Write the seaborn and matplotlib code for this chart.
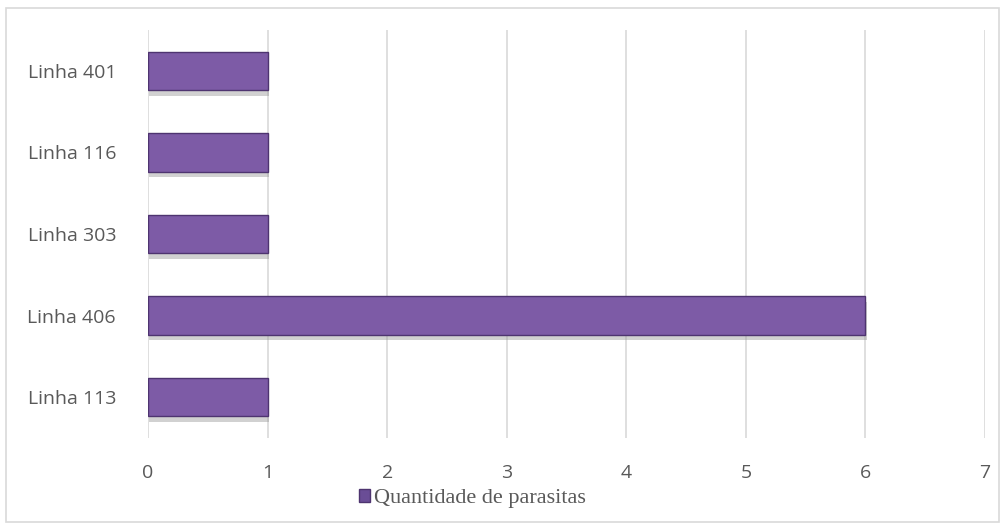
import matplotlib
matplotlib.use("Agg")
import matplotlib.pyplot as plt
import matplotlib.patches as mpatches
import matplotlib.patheffects as pe
import seaborn as sns
import pandas as pd

# data
linhas = ["Linha 401", "Linha 116", "Linha 303", "Linha 406", "Linha 113"]
parasitas = [1, 1, 1, 6, 1]
serie = "Quantidade de parasitas"

df = pd.DataFrame({"linha": linhas, "qtd": parasitas})

sns.set_style("white")
plt.rcParams["font.family"] = ["Open Sans", "DejaVu Sans"]

fig = plt.figure(figsize=(10.05, 5.27), dpi=100)
ax = fig.add_axes([0.1473, 0.169, 0.8328, 0.774])

sns.barplot(data=df, x="qtd", y="linha", orient="h", color="#7d5ba6",
            width=0.47, saturation=1, ax=ax,
            edgecolor="#4e3470", linewidth=1.0)

for bar in ax.patches:
    bar.set_path_effects([pe.SimplePatchShadow(offset=(1, -4), shadow_rgbFace="#999999", alpha=0.45),
                          pe.Normal()])

ax.set_xlim(0, 7)
ax.set_xticks(range(0, 8))
ax.set_xlabel("")
ax.set_ylabel("")
ax.grid(axis="x", color="#d9d9d9", linewidth=1.2)
ax.set_axisbelow(True)
for s in ax.spines.values():
    s.set_visible(False)
ax.tick_params(axis="both", length=0, labelsize=14, labelcolor="#595959")
ax.tick_params(axis="x", pad=19)
ax.tick_params(axis="y", pad=23)

handle = mpatches.Patch(facecolor="#6a4d96", edgecolor="#4e3470", label=serie)
fig.legend(handles=[handle], loc="center", bbox_to_anchor=(0.47, 0.054),
           frameon=False, handlelength=0.5, handleheight=0.5, handletextpad=0.15,
           prop={"family": "Liberation Serif", "size": 16}, labelcolor="#595959")

# outer chart border
fig.patches.append(mpatches.Rectangle((0.006, 0.01), 0.988, 0.975, transform=fig.transFigure,
                                      fill=False, edgecolor="#d9d9d9", linewidth=1.2))

fig.savefig("out.png", dpi=100)
